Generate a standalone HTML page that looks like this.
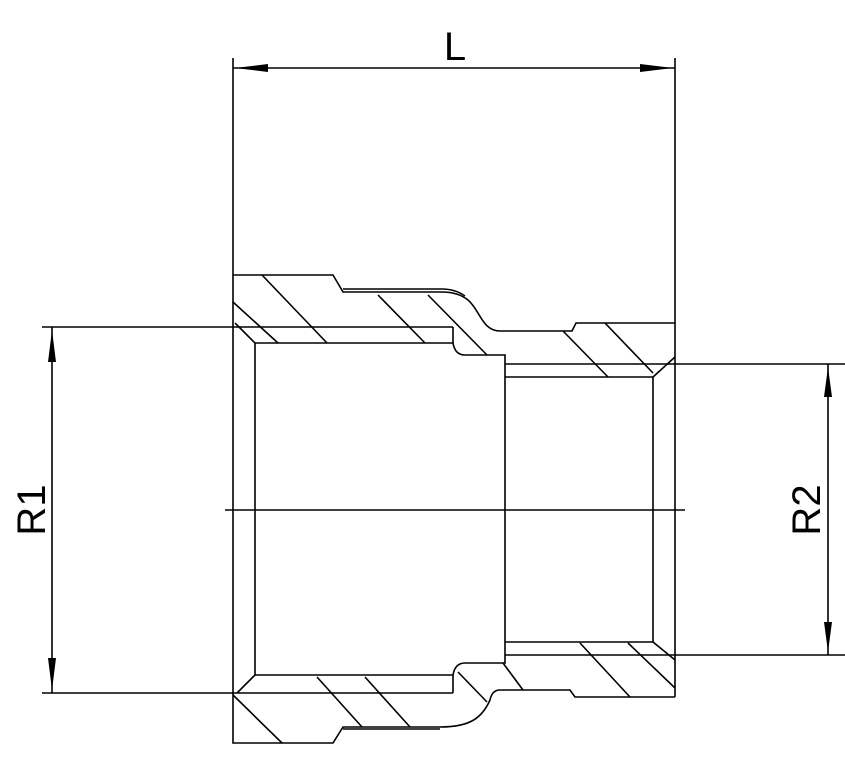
<html><body style="margin:0;background:#fff">
<svg width="845" height="766" xmlns="http://www.w3.org/2000/svg" style="display:block">
<g stroke="#000" stroke-width="1.6" fill="none">
<line x1="233" y1="58" x2="233" y2="275"/>
<line x1="675" y1="58" x2="675" y2="323"/>
<line x1="233" y1="68" x2="675" y2="68"/>
<line x1="42" y1="327" x2="453" y2="327"/>
<line x1="42" y1="693" x2="453" y2="693"/>
<line x1="52" y1="327" x2="52" y2="693"/>
<line x1="505" y1="364" x2="845" y2="364"/>
<line x1="505" y1="655" x2="845" y2="655"/>
<line x1="828" y1="364" x2="828" y2="655"/>
<line x1="225" y1="510" x2="685" y2="510"/>
<path d="M233 275 H333 L343 292 H442 Q458 292 468 300 C480 310 482 331 500 331 H572 L576 323 H675 V697"/>
<path d="M343 289 H442 Q455 289 465 296"/>
<path d="M233 275 V743 H333 L343 727 H440 C470 727 482 718 490 700 Q492 690 500 690 H570 L575 697 H675"/>
<path d="M343 729 H440"/>
<path d="M255 343 H453 V327"/>
<path d="M255 343 V675 H453 V693"/>
<line x1="235" y1="323" x2="255" y2="343"/>
<line x1="255" y1="675" x2="237" y2="693"/>
<path d="M453 343 Q455 355 465 355 H505 V663 H465 Q455 663 453 675"/>
<path d="M505 377 H653 V642 H505"/>
<line x1="653" y1="377" x2="675" y2="357"/>
<line x1="653" y1="642" x2="675" y2="660"/>
<line x1="262" y1="275" x2="327" y2="343"/>
<line x1="233" y1="302" x2="278" y2="343"/>
<line x1="378" y1="295" x2="425" y2="343"/>
<line x1="428" y1="295" x2="487" y2="355"/>
<line x1="563" y1="331" x2="608" y2="377"/>
<line x1="605" y1="323" x2="653" y2="373"/>
<line x1="317" y1="677" x2="362" y2="727"/>
<line x1="365" y1="677" x2="410" y2="727"/>
<line x1="233" y1="695" x2="282" y2="743"/>
<line x1="458" y1="672" x2="487" y2="702"/>
<line x1="503" y1="663" x2="523" y2="690"/>
<line x1="580" y1="643" x2="630" y2="697"/>
<line x1="628" y1="643" x2="675" y2="688"/>
</g>
<g fill="#000">
<polygon points="235,68 268,64 268,72"/>
<polygon points="673,68 640,64 640,72"/>
<polygon points="52,330 48,362 56,362"/>
<polygon points="52,690 48,658 56,658"/>
<polygon points="828,367 824,397 832,397"/>
<polygon points="828,652 824,622 832,622"/>
</g>
<g font-family="Liberation Sans, sans-serif" font-size="40" fill="#000">
<text x="455" y="60" text-anchor="middle">L</text>
<text transform="translate(45,510) rotate(-90)" text-anchor="middle">R1</text>
<text transform="translate(820,510) rotate(-90)" text-anchor="middle">R2</text>
</g>
</svg>
</body></html>
